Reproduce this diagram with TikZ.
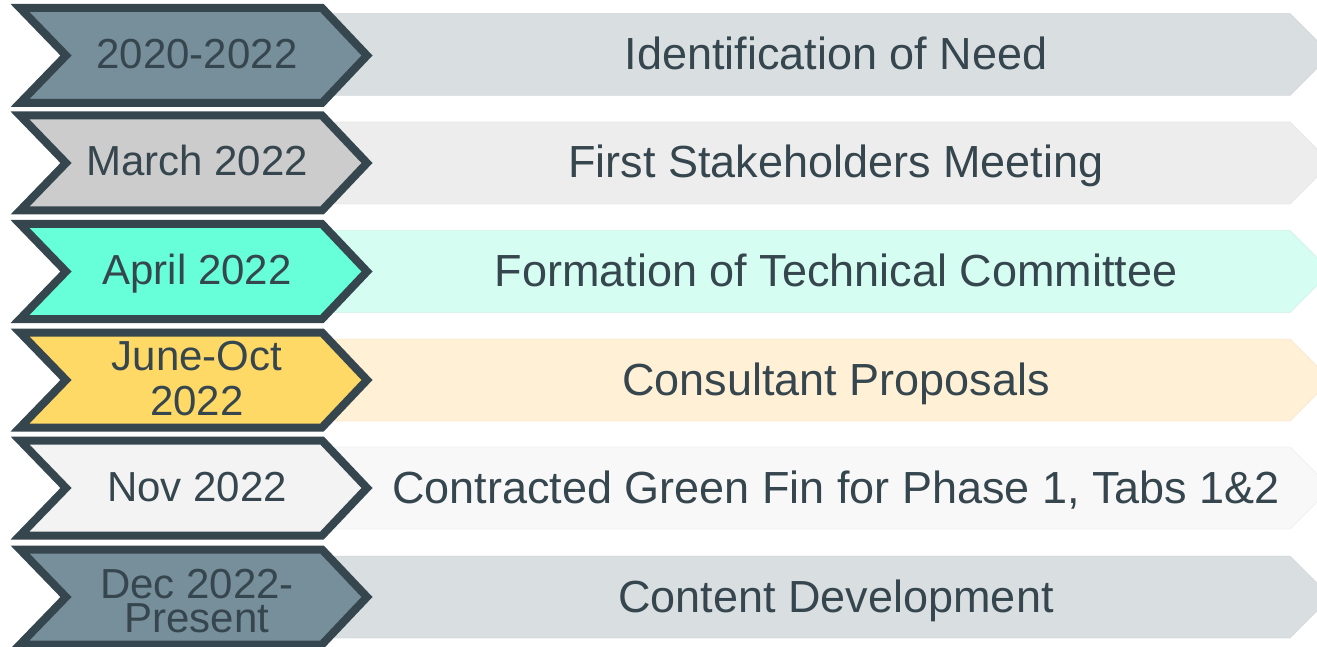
\documentclass[tikz,border=0pt]{standalone}
\usepackage{fontspec}
\setmainfont{Liberation Sans}
\definecolor{ink}{HTML}{36464E}
\definecolor{slate}{HTML}{778F9B}
\definecolor{slatebar}{HTML}{D9DEE1}
\definecolor{greyc}{HTML}{CCCCCC}
\definecolor{greybar}{HTML}{EDEDED}
\definecolor{mintc}{HTML}{66FFD9}
\definecolor{mintbar}{HTML}{D6FDF1}
\definecolor{goldc}{HTML}{FFD966}
\definecolor{goldbar}{HTML}{FFF0D6}
\definecolor{whitec}{HTML}{F3F3F3}
\definecolor{whitebar}{HTML}{F8F8F8}
\tikzset{
  datetxt/.style={text=ink, font=\fontsize{42}{45}\selectfont, align=center, inner sep=0pt, anchor=base},
  eventtxt/.style={text=ink, font=\fontsize{45}{50}\selectfont, inner sep=0pt, anchor=base},
  chevstroke/.style={draw=ink, line width=8pt, line join=miter},
}
\newcommand{\rowbar}[2]{% y center, colour
  \fill[#2] (330,#1-41) -- (1290,#1-41) -- (1331,#1) -- (1290,#1+41) -- (330,#1+41) -- cycle;
  \draw[#2!92!black, line width=0.8pt, opacity=0.4] (330,#1-41) -- (1290,#1-41) -- (1331,#1) -- (1290,#1+41) -- (330,#1+41);
}
\newcommand{\rowchev}[2]{% y center, colour
  \fill[black, opacity=0.18] (21,#1-45) -- (323,#1-45) -- (368,#1+3) -- (323,#1+51) -- (21,#1+51) -- (67,#1+3) -- cycle;
  \draw[chevstroke, fill=#2] (20,#1-47.5) -- (322,#1-47.5) -- (367,#1) -- (322,#1+47.5) -- (20,#1+47.5) -- (66,#1) -- cycle;
}
\begin{document}
\begin{tikzpicture}[x=1pt,y=-1pt]
\useasboundingbox (0,0) rectangle (1317,647);
\clip (0,0) rectangle (1317,647);
\fill[white] (0,0) rectangle (1317,647);
% bars
\rowbar{54.5}{slatebar}
\rowbar{163}{greybar}
\rowbar{271.5}{mintbar}
\rowbar{380}{goldbar}
\rowbar{488}{whitebar}
\rowbar{597}{slatebar}
% chevrons
\rowchev{55.5}{slate}
\rowchev{163}{greyc}
\rowchev{271.5}{mintc}
\rowchev{380}{goldc}
\rowchev{488}{whitec}
\rowchev{597}{slate}
% dates
\node[datetxt] (d1) at (197,68.5) {2020-2022};
\node[datetxt] (d2) at (197,176) {March 2022};
\node[datetxt] (d3) at (197,284.5) {April 2022};
\node[datetxt, font=\fontsize{42}{45}\selectfont] (d4) at (197,415) {June-Oct\\2022};
\node[datetxt] (d5) at (197,501) {Nov 2022};
\node[datetxt, font=\fontsize{42}{34}\selectfont] (d6) at (197,632) {Dec 2022-\\Present};
% events
\node[eventtxt] (e1) at (836,70) {Identification of Need};
\node[eventtxt] (e2) at (836,178) {First Stakeholders Meeting};
\node[eventtxt] (e3) at (836,286.5) {Formation of Technical Committee};
\node[eventtxt] (e4) at (836,395) {Consultant Proposals};
\node[eventtxt] (e5) at (836,503) {Contracted Green Fin for Phase 1, Tabs 1\&2};
\node[eventtxt] (e6) at (836,612) {Content Development};
\end{tikzpicture}
\end{document}
